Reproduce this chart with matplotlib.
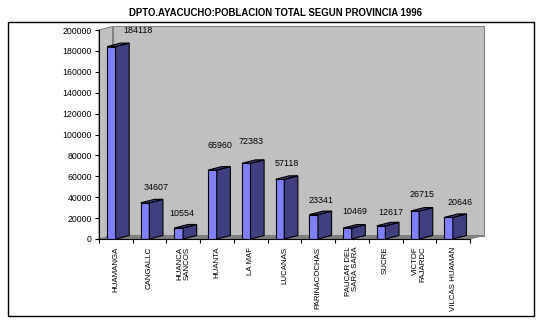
import matplotlib
matplotlib.use("Agg")
import matplotlib.pyplot as plt
from matplotlib.patches import Polygon, Rectangle

# Population by province, Ayacucho department, 1996
provinces = ["HUAMANGA", "CANGALLC", "HUANCA\nSANCOS", "HUANTA", "LA MAF",
             "LUCANAS", "PARINACOCHAS", "PAUCAR DEL\nSARA SARA", "SUCRE",
             "VICTOF\nFAJARDC", "VILCAS HUAMAN"]
population = [184118, 34607, 10554, 65960, 72383, 57118, 23341, 10469, 12617,
              26715, 20646]
y_ticks = [0, 20000, 40000, 60000, 80000, 100000, 120000, 140000, 160000,
           180000, 200000]
title = "DPTO.AYACUCHO:POBLACION TOTAL SEGUN PROVINCIA 1996"

# label placement (pixels) relative to the top-left corner of each bar face
label_dx = [30.6, 15.7, 7.2, 11.4, 8.8, 11.7, 11.2, 11.2, 14.4, 11.7, 15.5]
label_dy = [15.6, 15.0, 14.0, 25.0, 22.0, 16.0, 14.6, 16.4, 13.0, 16.8, 15.4]

FRONT = "#8080FF"
SIDE = "#404080"
WALL = "#C0C0C0"
FLOOR = "#808080"
EDGE_W = 0.8

plt.rcParams["font.family"] = ["Liberation Sans", "DejaVu Sans"]

W, H = 541, 322
fig = plt.figure(figsize=(W / 100, H / 100), dpi=100)
fig.patch.set_facecolor("white")

# chart frame
fig.patches.append(Rectangle((8 / W, 1 - 316 / H), 526 / W, 294 / H,
                             transform=fig.transFigure, fill=False,
                             edgecolor="black", linewidth=1.0))

fig.text(275.5 / W, 1 - 12.5 / H, title, ha="center", va="center",
         fontsize=6.9, fontweight="bold")

ax = fig.add_axes([99 / W, 1 - 239 / H, 371 / W, 209 / H])
ax.set_facecolor("none")
n = len(provinces)
ymax = 200000
ax.set_xlim(0, n)
ax.set_ylim(0, ymax)

# depth of the 3-D effect in data units
px_x = n / 371.0
px_y = ymax / 209.0
dx = 13.6 * px_x
dy = 3.5 * px_y

# walls and floor
ax.add_patch(Polygon([(0, 0), (dx, dy), (dx, ymax + dy), (0, ymax)],
                     closed=True, facecolor=WALL, edgecolor=FLOOR,
                     linewidth=EDGE_W, clip_on=False, zorder=0))
ax.add_patch(Polygon([(dx, dy), (n + dx, dy), (n + dx, ymax + dy), (dx, ymax + dy)],
                     closed=True, facecolor=WALL, edgecolor=FLOOR,
                     linewidth=EDGE_W, clip_on=False, zorder=0))
ax.add_patch(Polygon([(0, 0), (n, 0), (n + dx, dy), (dx, dy)],
                     closed=True, facecolor=FLOOR, edgecolor=FLOOR,
                     linewidth=EDGE_W, clip_on=False, zorder=0.5))

# 3-D columns
offset = 8.0 * px_x
width = 8.6 * px_x
x_left = [i + offset for i in range(n)]
ax.bar(x_left, population, width=width, align="edge", color=FRONT,
       edgecolor="black", linewidth=EDGE_W, zorder=3)
for xl, v in zip(x_left, population):
    xr = xl + width
    ax.add_patch(Polygon([(xr, 0), (xr + dx, dy), (xr + dx, v + dy), (xr, v)],
                         closed=True, facecolor=SIDE, edgecolor="black",
                         linewidth=EDGE_W, clip_on=False, zorder=3))
    ax.add_patch(Polygon([(xl, v), (xr, v), (xr + dx, v + dy), (xl + dx, v + dy)],
                         closed=True, facecolor=SIDE, edgecolor="black",
                         linewidth=EDGE_W, clip_on=False, zorder=3))

for xl, v, ox, oy in zip(x_left, population, label_dx, label_dy):
    ax.annotate(f"{v}", (xl, v), xytext=(ox, oy), textcoords="offset pixels",
                ha="center", va="center", fontsize=6.4, zorder=5)

# axes
for side in ("top", "right"):
    ax.spines[side].set_visible(False)
ax.spines["left"].set_linewidth(EDGE_W)
ax.spines["bottom"].set_linewidth(EDGE_W)
ax.spines["left"].set_zorder(4)
ax.spines["bottom"].set_zorder(4)

ax.set_yticks(y_ticks)
ax.set_yticklabels([str(t) for t in y_ticks])
ax.tick_params(axis="y", direction="out", length=3, width=EDGE_W,
               pad=2.2, labelsize=6.3)

ax.set_xticks(range(n + 1))
ax.set_xticklabels([])
ax.tick_params(axis="x", which="major", direction="out", length=3,
               width=EDGE_W)
ax.set_xticks([i + 0.5 for i in range(n)], minor=True)
ax.set_xticklabels(provinces, minor=True, rotation=90, fontsize=5.7,
                   ha="center", va="top", multialignment="right",
                   linespacing=1.0)
ax.tick_params(axis="x", which="minor", length=0, pad=5.5)

fig.savefig("out.png", dpi=100, facecolor="white")
